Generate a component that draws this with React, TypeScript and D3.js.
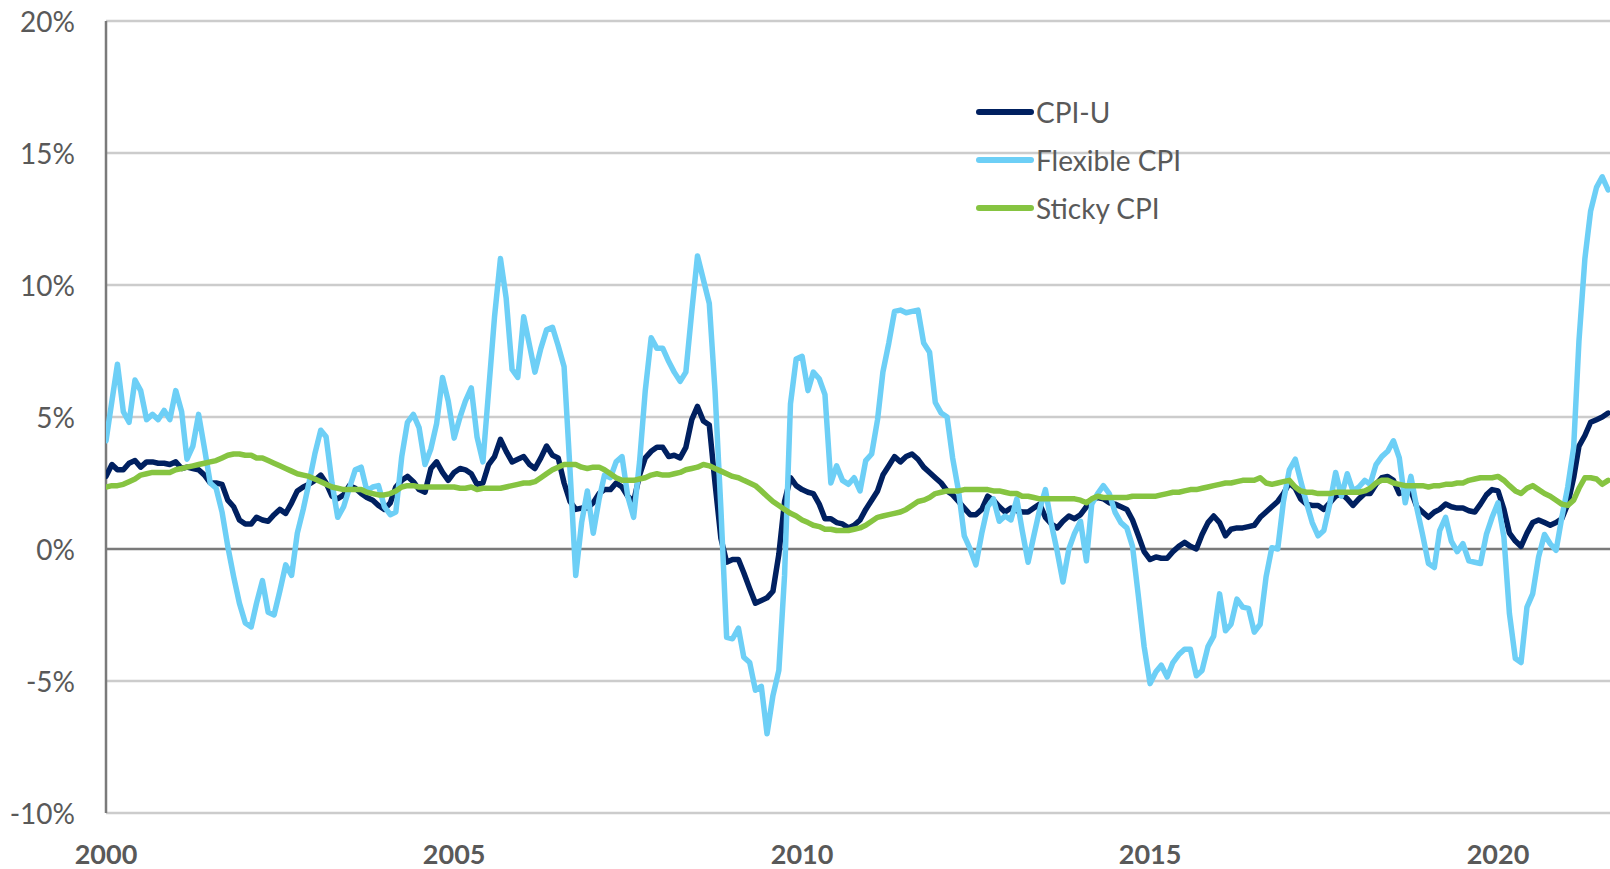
import React from "react";
import * as d3 from "d3";

// Monthly 12-month % changes, Jan 2000 .. Aug 2021
const startYear = 2000;

const cpiU: number[] = [
  2.75, 3.2, 3.0, 3.0, 3.25, 3.35, 3.1, 3.3, 3.3, 3.25, 3.25, 3.2,
  3.3, 3.05, 3.1, 3.05, 3.0, 2.8, 2.5, 2.5, 2.45, 1.85, 1.6, 1.1,
  0.95, 0.95, 1.2, 1.1, 1.05, 1.3, 1.5, 1.35, 1.75, 2.2, 2.35, 2.45,
  2.6, 2.8, 2.5, 2.0, 1.9, 2.05, 2.4, 2.3, 2.1, 1.95, 1.85, 1.65,
  1.5, 1.75, 2.35, 2.6, 2.75, 2.55, 2.25, 2.15, 3.05, 3.3, 2.9, 2.6,
  2.9, 3.05, 3.0, 2.85, 2.45, 2.5, 3.2, 3.5, 4.15, 3.7, 3.3, 3.4,
  3.5, 3.2, 3.05, 3.45, 3.9, 3.55, 3.45, 2.5, 1.8, 1.5, 1.55, 1.55,
  1.75, 2.1, 2.25, 2.25, 2.5, 2.35, 2.0, 1.8, 2.8, 3.45, 3.7, 3.85,
  3.85, 3.5, 3.55, 3.45, 3.85, 4.9, 5.4, 4.85, 4.7, 2.5, 0.4, -0.5,
  -0.4, -0.4, -0.9, -1.5, -2.05, -1.95, -1.85, -1.6, -0.2, 1.8, 2.7, 2.4,
  2.25, 2.15, 2.1, 1.7, 1.15, 1.15, 1.0, 0.95, 0.8, 0.9, 1.1, 1.5,
  1.85, 2.2, 2.8, 3.15, 3.5, 3.3, 3.5, 3.6, 3.4, 3.1, 2.9, 2.7,
  2.5, 2.2, 2.05, 1.8, 1.55, 1.3, 1.3, 1.5, 2.0, 1.85, 1.6, 1.4,
  1.55, 1.45, 1.4, 1.4, 1.55, 1.7, 1.2, 0.95, 0.8, 1.05, 1.25, 1.15,
  1.3, 1.6, 1.85, 1.95, 1.9, 1.75, 1.7, 1.6, 1.5, 1.1, 0.5, -0.1,
  -0.4, -0.3, -0.35, -0.35, -0.1, 0.1, 0.25, 0.1, 0.0, 0.55, 1.0, 1.25,
  1.0, 0.5, 0.75, 0.8, 0.8, 0.85, 0.9, 1.2, 1.4, 1.6, 1.8, 2.1,
  2.5, 2.3, 1.9, 1.7, 1.65, 1.65, 1.5, 1.75, 2.0, 2.1, 1.9, 1.65,
  1.9, 2.1, 2.1, 2.45, 2.7, 2.75, 2.6, 2.1, 2.2, 2.2, 1.6, 1.4,
  1.2, 1.4, 1.5, 1.7, 1.6, 1.55, 1.55, 1.45, 1.4, 1.7, 2.05, 2.25,
  2.2, 1.5, 0.6, 0.3, 0.1, 0.6, 1.0, 1.1, 1.0, 0.9, 1.0, 1.15,
  1.7, 2.7, 3.9, 4.3, 4.8, 4.9, 5.0, 5.15,
];

const flexibleCpi: number[] = [
  4.1, 5.6, 7.0, 5.2, 4.8, 6.4, 6.0, 4.9, 5.1, 4.9, 5.25, 4.9,
  6.0, 5.2, 3.4, 3.9, 5.1, 3.8, 2.5, 2.3, 1.4, 0.1, -1.05, -2.05,
  -2.8, -2.95, -2.05, -1.2, -2.4, -2.5, -1.6, -0.6, -1.0, 0.6, 1.5, 2.5,
  3.6, 4.5, 4.25, 2.5, 1.2, 1.6, 2.3, 3.0, 3.1, 2.2, 2.35, 2.4,
  1.6, 1.3, 1.4, 3.5, 4.8, 5.1, 4.6, 3.2, 3.8, 4.75, 6.5, 5.6,
  4.2, 5.0, 5.6, 6.1, 4.25, 3.3, 6.0, 8.8, 11.0, 9.5, 6.8, 6.5,
  8.8, 7.7, 6.7, 7.6, 8.3, 8.4, 7.7, 6.9, 3.0, -1.0, 1.0, 2.2,
  0.6, 1.9, 2.8, 2.7, 3.3, 3.5, 2.0, 1.2, 3.3, 6.0, 8.0, 7.6,
  7.6, 7.1, 6.7, 6.35, 6.7, 9.0, 11.1, 10.2, 9.3, 6.0, 1.5, -3.35,
  -3.4, -3.0, -4.1, -4.3, -5.35, -5.2, -7.0, -5.55, -4.6, -1.0, 5.5, 7.2,
  7.3, 6.0, 6.7, 6.45, 5.85, 2.5, 3.15, 2.6, 2.45, 2.7, 2.2, 3.35,
  3.6, 4.9, 6.7, 7.8, 9.0, 9.05, 8.95, 9.0, 9.05, 7.8, 7.45, 5.55,
  5.15, 5.0, 3.45, 2.2, 0.5, 0.0, -0.6, 0.6, 1.6, 1.9, 1.05, 1.25,
  1.1, 1.9, 0.7, -0.5, 0.5, 1.5, 2.25, 0.95, -0.1, -1.25, 0.0, 0.6,
  1.05, -0.45, 1.7, 2.1, 2.4, 2.1, 1.4, 1.0, 0.8, 0.1, -1.8, -3.7,
  -5.1, -4.65, -4.4, -4.85, -4.3, -4.0, -3.8, -3.8, -4.8, -4.6, -3.7, -3.3,
  -1.7, -3.1, -2.85, -1.9, -2.2, -2.25, -3.15, -2.85, -1.05, 0.05, 0.0, 1.8,
  3.0, 3.4, 2.6, 1.75, 1.0, 0.5, 0.7, 1.7, 2.9, 2.0, 2.85, 2.2,
  2.35, 2.6, 2.45, 3.2, 3.5, 3.7, 4.1, 3.45, 1.75, 2.75, 1.55, 0.55,
  -0.55, -0.7, 0.7, 1.2, 0.3, -0.1, 0.2, -0.45, -0.5, -0.55, 0.55, 1.2,
  1.75, 0.45, -2.45, -4.15, -4.3, -2.2, -1.7, -0.3, 0.55, 0.2, -0.05, 1.2,
  2.35, 3.85, 7.9, 11.0, 12.8, 13.7, 14.1, 13.6,
];

const stickyCpi: number[] = [
  2.35, 2.4, 2.4, 2.45, 2.55, 2.65, 2.8, 2.85, 2.9, 2.9, 2.9, 2.9,
  3.0, 3.05, 3.1, 3.15, 3.2, 3.25, 3.3, 3.35, 3.45, 3.55, 3.6, 3.6,
  3.55, 3.55, 3.45, 3.45, 3.35, 3.25, 3.15, 3.05, 2.95, 2.85, 2.8, 2.75,
  2.65, 2.55, 2.45, 2.35, 2.3, 2.25, 2.25, 2.25, 2.25, 2.15, 2.1, 2.05,
  2.05, 2.1, 2.2, 2.35, 2.4, 2.4, 2.35, 2.35, 2.35, 2.35, 2.35, 2.35,
  2.35, 2.3, 2.3, 2.35, 2.25, 2.3, 2.3, 2.3, 2.3, 2.35, 2.4, 2.45,
  2.5, 2.5, 2.55, 2.7, 2.85, 3.0, 3.1, 3.2, 3.2, 3.2, 3.1, 3.05,
  3.1, 3.1, 3.0, 2.85, 2.7, 2.6, 2.6, 2.6, 2.65, 2.7, 2.8, 2.85,
  2.8, 2.8, 2.85, 2.9, 3.0, 3.05, 3.1, 3.2, 3.15, 3.05, 2.95, 2.85,
  2.75, 2.7, 2.6, 2.5, 2.4, 2.2, 2.0, 1.8, 1.65, 1.5, 1.35, 1.25,
  1.1, 1.0, 0.9, 0.85, 0.75, 0.75, 0.7, 0.7, 0.7, 0.75, 0.8, 0.9,
  1.05, 1.2, 1.25, 1.3, 1.35, 1.4, 1.5, 1.65, 1.8, 1.85, 1.95, 2.1,
  2.15, 2.2, 2.2, 2.2, 2.25, 2.25, 2.25, 2.25, 2.25, 2.2, 2.2, 2.15,
  2.1, 2.1, 2.0, 2.0, 1.95, 1.9, 1.9, 1.9, 1.9, 1.9, 1.9, 1.9,
  1.85, 1.75, 1.9, 2.0, 1.95, 1.95, 1.95, 1.95, 1.95, 2.0, 2.0, 2.0,
  2.0, 2.0, 2.05, 2.1, 2.15, 2.15, 2.2, 2.25, 2.25, 2.3, 2.35, 2.4,
  2.45, 2.5, 2.5, 2.55, 2.6, 2.6, 2.6, 2.7, 2.5, 2.45, 2.5, 2.55,
  2.6, 2.35, 2.2, 2.15, 2.15, 2.1, 2.1, 2.1, 2.15, 2.15, 2.15, 2.15,
  2.15, 2.2, 2.3, 2.5, 2.6, 2.6, 2.5, 2.45, 2.4, 2.4, 2.4, 2.4,
  2.35, 2.4, 2.4, 2.45, 2.45, 2.5, 2.5, 2.6, 2.65, 2.7, 2.7, 2.7,
  2.75, 2.6, 2.4, 2.2, 2.1, 2.3, 2.4, 2.25, 2.1, 2.0, 1.85, 1.7,
  1.65, 1.85, 2.3, 2.7, 2.7, 2.65, 2.45, 2.6,
];

const seriesNames = ["CPI-U", "Flexible CPI", "Sticky CPI"];
const seriesColors = ["#002060", "#6DCFF6", "#86C441"];
const yTickValues = [-10, -5, 0, 5, 10, 15, 20];
const xTickYears = [2000, 2005, 2010, 2015, 2020];

const W = 1610;
const H = 869;
const FONT = "Lato, 'Open Sans', sans-serif";
const TEXT = "#595959";

export default function App() {
  const x = d3
    .scaleTime()
    .domain([new Date(2000, 0, 1), new Date(2020, 0, 1)])
    .range([106, 1498]);
  const y = d3.scaleLinear().domain([-10, 20]).range([813, 21]);

  const dateOf = (i: number) => new Date(startYear, i, 1);
  const line = d3
    .line<number>()
    .x((_, i) => x(dateOf(i)))
    .y((v) => y(v));

  const allSeries = [cpiU, flexibleCpi, stickyCpi];
  const plotLeft = x(new Date(2000, 0, 1));

  return (
    <>
      <style>{`body{margin:0;background:#fff}`}</style>
      <svg width={W} height={H} style={{ display: "block" }}>
        <rect width={W} height={H} fill="#fff" />
        <defs>
          <clipPath id="plotClip">
            <rect x={plotLeft} y={0} width={W - plotLeft} height={H} />
          </clipPath>
        </defs>
        {yTickValues.map((v) =>
          v === 0 ? null : (
            <line
              key={"g" + v}
              x1={plotLeft}
              x2={W}
              y1={y(v)}
              y2={y(v)}
              stroke="#cccccc"
              strokeWidth={2.5}
            />
          )
        )}
        <line x1={plotLeft} x2={W} y1={y(0)} y2={y(0)} stroke="#7a7a7a" strokeWidth={2.5} />
        <line x1={plotLeft} x2={plotLeft} y1={y(20)} y2={y(-10)} stroke="#7a7a7a" strokeWidth={2.5} />
        {yTickValues.map((v) => (
          <text
            key={"yl" + v}
            x={75}
            y={y(v)}
            textAnchor="end"
            dominantBaseline="central"
            fontFamily={FONT}
            fontSize={28}
            fill={TEXT}
          >
            {v + "%"}
          </text>
        ))}
        {xTickYears.map((yr) => (
          <text
            key={"xl" + yr}
            x={x(new Date(yr, 0, 1))}
            y={864}
            textAnchor="middle"
            fontFamily={FONT}
            fontWeight="bold"
            fontSize={27}
            fill={TEXT}
          >
            {yr}
          </text>
        ))}
        <g clipPath="url(#plotClip)">
          {allSeries.map((s, k) => (
            <path
              key={"s" + k}
              d={line(s) || ""}
              fill="none"
              stroke={seriesColors[k]}
              strokeWidth={5.5}
              strokeLinejoin="round"
              strokeLinecap="round"
            />
          ))}
        </g>
        {seriesNames.map((name, k) => {
          const ly = 112 + k * 48;
          return (
            <g key={"lg" + k}>
              <line
                x1={979}
                x2={1031}
                y1={ly}
                y2={ly}
                stroke={seriesColors[k]}
                strokeWidth={6}
                strokeLinecap="round"
              />
              <text
                x={1036}
                y={ly}
                dominantBaseline="central"
                fontFamily={FONT}
                fontSize={28}
                fill={TEXT}
              >
                {name}
              </text>
            </g>
          );
        })}
      </svg>
    </>
  );
}
